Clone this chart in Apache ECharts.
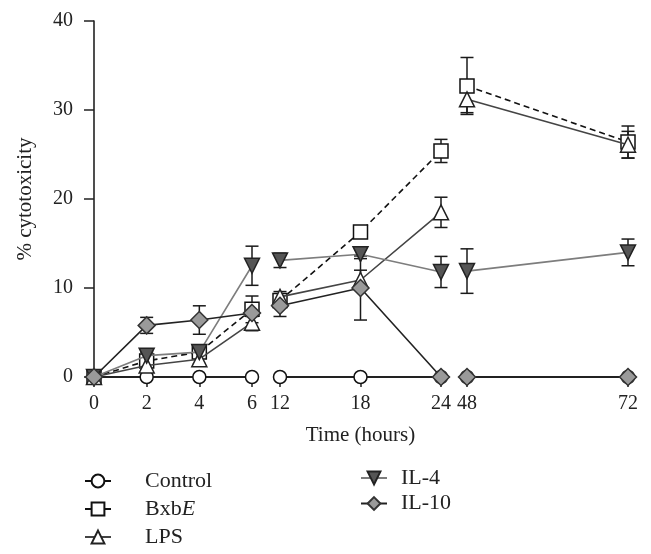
<!DOCTYPE html>
<html>
<head>
<meta charset="utf-8">
<script src="https://cdn.jsdelivr.net/npm/echarts@6/dist/echarts.min.js"></script>
<style>
  html, body { margin: 0; padding: 0; background: #fff; }
  #chart { width: 651px; height: 554px; }
</style>
</head>
<body>
<div id="chart"></div>
<script>
// ---- data ----
const times = [0, 2, 4, 6, 12, 18, 24, 48, 72];
const control = [0, 0, 0, 0, 0, 0, 0, 0, 0];
const bxbE = [0, 1.8, 2.8, 7.6, 8.6, 16.3, 25.4, 32.7, 26.4];
const bxbEErr = [0, 0.3, 0.4, 1.5, 0.6, 0.4, 1.3, 3.2, 1.8];
const lps = [0, 1.3, 2.0, 6.1, 9.0, 10.9, 18.5, 31.2, 26.1];
const lpsErr = [0, 0.5, 0.5, 0.9, 0.6, 1.1, 1.7, 1.5, 1.5];
const il4 = [0, 2.4, 2.8, 12.5, 13.1, 13.8, 11.8, 11.9, 14.0];
const il4Err = [0, 0.4, 0.4, 2.2, 0.8, 0.5, 1.75, 2.5, 1.5];
const il10 = [0, 5.8, 6.4, 7.2, 8.0, 10.0, 0, 0, 0];
const il10Err = [0, 0.9, 1.6, 0.4, 1.2, 3.6, 0, 0, 0];
// axis segments (broken time axis): [min, max, tick interval]
const segMin = [0, 12, 48];
const segMax = [6, 24, 72];
const segInterval = [2, 6, 24];
const yTicks = [0, 10, 20, 30, 40];

const FONT = "'Liberation Serif', 'DejaVu Serif', serif";

const treatments = [
  { name: 'Control', values: control, errors: null,
    line: { color: '#111', width: 1.6, type: 'solid' },
    symbol: 'circle', size: 13, rotate: 0, fill: '#fff', border: '#111' },
  { name: 'BxbE', values: bxbE, errors: bxbEErr,
    line: { color: '#111', width: 1.6, type: [6, 4] },
    symbol: 'rect', size: 14, rotate: 0, fill: '#fff', border: '#111' },
  { name: 'LPS', values: lps, errors: lpsErr,
    line: { color: '#444', width: 1.6, type: 'solid' },
    symbol: 'triangle', size: 15, rotate: 0, fill: '#fff', border: '#222' },
  { name: 'IL-4', values: il4, errors: il4Err,
    line: { color: '#7d7d7d', width: 1.6, type: 'solid' },
    symbol: 'triangle', size: 15, rotate: 180, fill: '#555', border: '#222' },
  { name: 'IL-10', values: il10, errors: il10Err,
    line: { color: '#222', width: 1.6, type: 'solid' },
    symbol: 'diamond', size: 17, rotate: 0, fill: '#9a9a9a', border: '#333' }
];

const gridLefts = [94, 280, 467];
const gridWidths = [158, 161, 161];
const grids = gridLefts.map((l, i) => ({ left: l, width: gridWidths[i], top: 21, height: 356 }));

const xAxes = segMin.map((mn, i) => ({
  type: 'value', gridIndex: i, min: mn, max: segMax[i], interval: segInterval[i],
  axisLine: { show: true, lineStyle: { color: '#222', width: 1.6 } },
  axisTick: { show: true, length: 10, lineStyle: { color: '#222', width: 1.5 } },
  axisLabel: { show: true, margin: 17, color: '#222', fontSize: 20, fontFamily: FONT },
  splitLine: { show: false },
  name: i === 1 ? 'Time (hours)' : '',
  nameLocation: 'middle', nameGap: 48,
  nameTextStyle: { color: '#222', fontSize: 21, fontFamily: FONT }
}));

const yAxes = segMin.map((mn, i) => ({
  type: 'value', gridIndex: i, min: yTicks[0], max: yTicks[yTicks.length - 1], interval: 10,
  show: i === 0,
  axisLine: { show: true, lineStyle: { color: '#222', width: 1.6 } },
  axisTick: { show: true, length: 10, lineStyle: { color: '#222', width: 1.5 } },
  axisLabel: { show: true, margin: 21, color: '#222', fontSize: 20, fontFamily: FONT },
  splitLine: { show: false },
  name: i === 0 ? '% cytotoxicity' : '',
  nameLocation: 'middle', nameGap: 58,
  nameTextStyle: { color: '#222', fontSize: 21, fontFamily: FONT }
}));

function renderErr(params, api) {
  const x = api.value(0), y = api.value(1), e = api.value(2);
  if (!e) return;
  const p1 = api.coord([x, y + e]);
  const p2 = api.coord([x, y - e]);
  const w = 6.5;
  const st = { stroke: '#1a1a1a', lineWidth: 1.5 };
  return {
    type: 'group',
    children: [
      { type: 'line', shape: { x1: p1[0], y1: p1[1], x2: p2[0], y2: p2[1] }, style: st },
      { type: 'line', shape: { x1: p1[0] - w, y1: p1[1], x2: p1[0] + w, y2: p1[1] }, style: st },
      { type: 'line', shape: { x1: p2[0] - w, y1: p2[1], x2: p2[0] + w, y2: p2[1] }, style: st }
    ]
  };
}

const series = [];
segMin.forEach((mn, s) => {
  treatments.forEach(tr => {
    if (!tr.errors) return;
    const d = [];
    times.forEach((t, i) => { if (t >= mn && t <= segMax[s]) d.push([t, tr.values[i], tr.errors[i]]); });
    series.push({
      type: 'custom', name: tr.name + ' error', xAxisIndex: s, yAxisIndex: s,
      renderItem: renderErr, data: d, z: 1, clip: false, silent: true
    });
  });
});
segMin.forEach((mn, s) => {
  treatments.forEach((tr, k) => {
    const d = [];
    times.forEach((t, i) => { if (t >= mn && t <= segMax[s]) d.push([t, tr.values[i]]); });
    series.push({
      type: 'line', name: tr.name, xAxisIndex: s, yAxisIndex: s, data: d,
      symbol: tr.symbol, symbolSize: tr.size, symbolRotate: tr.rotate,
      showAllSymbol: true, clip: false, z: 3 + k,
      lineStyle: { color: tr.line.color, width: tr.line.width, type: tr.line.type },
      itemStyle: { color: tr.fill, borderColor: tr.border, borderWidth: 1.5, opacity: 1 },
      emphasis: { disabled: true }
    });
  });
});

function legendText(padLeft) {
  return {
    fontFamily: FONT, fontSize: 22, color: '#222', lineHeight: 18, padding: [0, 0, 0, padLeft],
    rich: { i: { fontFamily: FONT, fontSize: 22, color: '#222', lineHeight: 18, fontStyle: 'italic' } }
  };
}
const legendFmt = name => name === 'BxbE' ? 'Bxb{i|E}' : name;

const chart = echarts.init(document.getElementById('chart'), null, { renderer: 'canvas' });
chart.setOption({
  animation: false,
  backgroundColor: '#fff',
  grid: grids,
  xAxis: xAxes,
  yAxis: yAxes,
  legend: [
    { data: ['Control', 'BxbE', 'LPS'], orient: 'vertical', left: 84, top: 470,
      height: 120, padding: 0,
      itemWidth: 26, itemHeight: 16, itemGap: 6, selectedMode: false,
      formatter: legendFmt, textStyle: legendText(29) },
    { data: ['IL-4', 'IL-10'], orient: 'vertical', left: 360, top: 467,
      height: 120, padding: 0,
      itemWidth: 26, itemHeight: 16, itemGap: 3.5, selectedMode: false,
      formatter: legendFmt, textStyle: legendText(9) }
  ],
  series: series
});
</script>
</body>
</html>
